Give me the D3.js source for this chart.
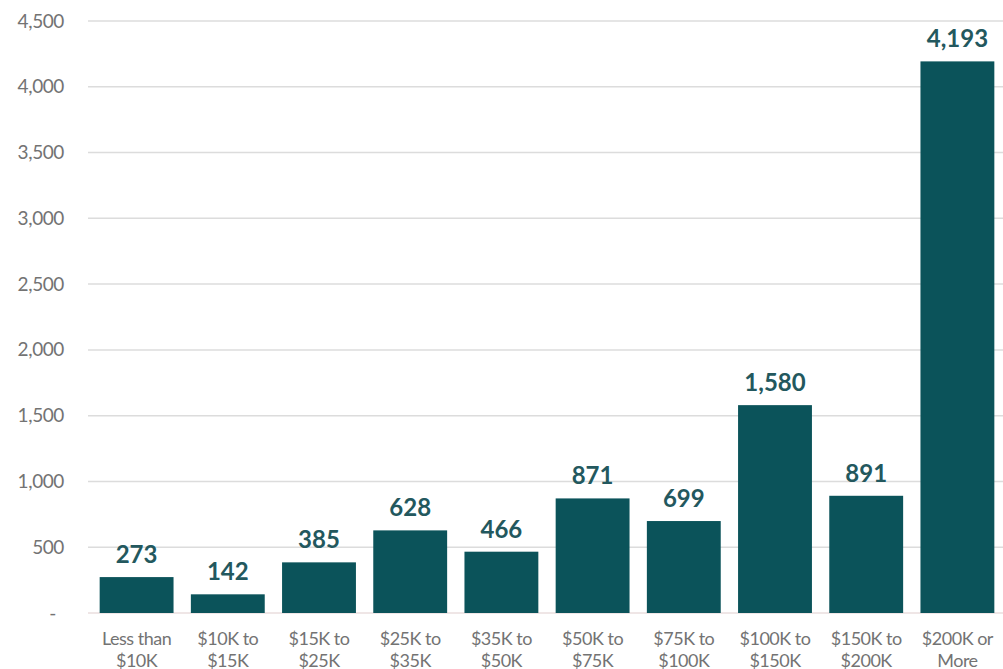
<!DOCTYPE html>
<html>
<head>
<meta charset="utf-8">
<script src="https://cdn.jsdelivr.net/npm/d3@7"></script>
<style>
  html, body { margin: 0; padding: 0; background: #fff; }
  svg { display: block; }
  text { font-family: Lato, "Open Sans", sans-serif; }
</style>
</head>
<body>
<svg id="chart" width="1003" height="669"></svg>
<script>
// Households by income bracket
const categories = [
  ["Less than", "$10K"],
  ["$10K to", "$15K"],
  ["$15K to", "$25K"],
  ["$25K to", "$35K"],
  ["$35K to", "$50K"],
  ["$50K to", "$75K"],
  ["$75K to", "$100K"],
  ["$100K to", "$150K"],
  ["$150K to", "$200K"],
  ["$200K or", "More"]
];
const values = [273, 142, 385, 628, 466, 871, 699, 1580, 891, 4193];
const yTicks = [0, 500, 1000, 1500, 2000, 2500, 3000, 3500, 4000, 4500];

const width = 1003, height = 669;
const margin = { top: 21, right: 0, bottom: 56, left: 88 };

const svg = d3.select("#chart");

const keys = categories.map(c => c.join(" "));

const x = d3.scaleBand()
  .domain(keys)
  .range([91, width])
  .paddingInner(0.19)
  .paddingOuter(0.095);

const y = d3.scaleLinear()
  .domain([0, 4500])
  .range([613, 21]);

// horizontal gridlines
svg.append("g")
  .selectAll("line")
  .data(yTicks.filter(d => d > 0))
  .join("line")
  .attr("x1", margin.left)
  .attr("x2", width)
  .attr("y1", d => y(d))
  .attr("y2", d => y(d))
  .attr("stroke", "#dcdcdc")
  .attr("stroke-width", 1.5);

// baseline
svg.append("line")
  .attr("x1", margin.left)
  .attr("x2", width)
  .attr("y1", y(0))
  .attr("y2", y(0))
  .attr("stroke", "#eadede")
  .attr("stroke-width", 1.5);

// y axis labels
const yAxis = d3.axisLeft(y)
  .tickValues(yTicks)
  .tickSize(0)
  .tickPadding(0)
  .tickFormat(d => d === 0 ? "-" : d3.format(",")(d));

const yg = svg.append("g")
  .attr("transform", "translate(64,0)")
  .call(yAxis);
yg.select(".domain").remove();
yg.selectAll("text")
  .attr("fill", "#737373")
  .attr("font-size", 19)
  .attr("font-family", "Lato, sans-serif")
  .attr("letter-spacing", "-0.4px")
  .attr("dx", d => d === 0 ? -8 : 0);

// bars
svg.append("g")
  .selectAll("rect")
  .data(values)
  .join("rect")
  .attr("x", (d, i) => x(keys[i]))
  .attr("width", x.bandwidth())
  .attr("y", d => y(d))
  .attr("height", d => y(0) - y(d))
  .attr("fill", "#0b535a");

// value labels
svg.append("g")
  .selectAll("text")
  .data(values)
  .join("text")
  .attr("x", (d, i) => x(keys[i]) + x.bandwidth() / 2)
  .attr("y", d => y(d) - 14)
  .attr("text-anchor", "middle")
  .attr("fill", "#23585e")
  .attr("font-size", 24)
  .attr("font-weight", 700)
  .text(d => d3.format(",")(d));

// category labels
const xAxis = d3.axisBottom(x).tickSize(0).tickPadding(0).tickFormat(() => "");
const xg = svg.append("g")
  .attr("transform", `translate(0,${y(0)})`)
  .call(xAxis);
xg.select(".domain").remove();
xg.selectAll(".tick text").remove();
xg.selectAll(".tick").each(function (d, i) {
  const t = d3.select(this).append("text")
    .attr("text-anchor", "middle")
    .attr("fill", "#737373")
    .attr("font-size", 18)
    .attr("font-family", "Lato, sans-serif")
    .attr("letter-spacing", "-0.5px");
  categories[i].forEach((line, j) => {
    t.append("tspan")
      .attr("x", 0)
      .attr("y", 32 + j * 21.5)
      .text(line);
  });
});
</script>
</body>
</html>
